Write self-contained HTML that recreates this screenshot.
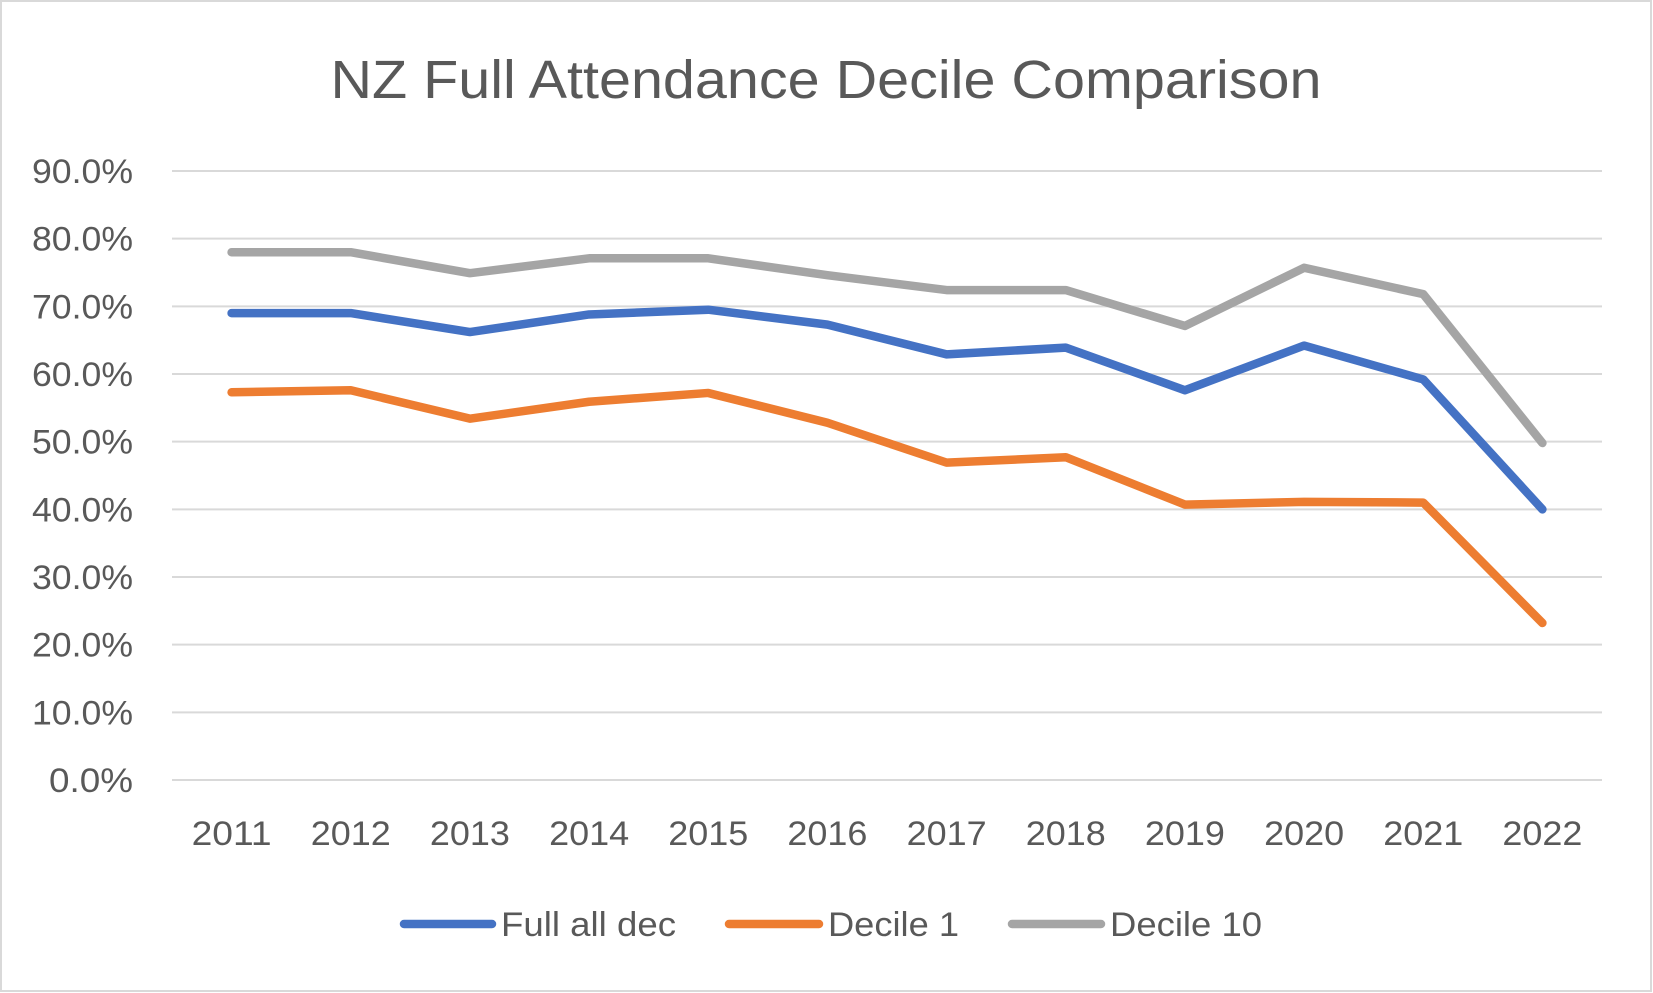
<!DOCTYPE html>
<html><head><meta charset="utf-8"><style>
html,body{margin:0;padding:0;background:#fff;}
svg{display:block;font-family:"Liberation Sans",sans-serif;}
</style></head><body>
<svg id="chart" width="1653" height="993">
<rect x="1" y="1" width="1650" height="990" fill="#fff" stroke="#d9d9d9" stroke-width="2"/>
<text x="826" y="98" text-anchor="middle" font-size="54" fill="#595959" textLength="991" lengthAdjust="spacingAndGlyphs">NZ Full Attendance Decile Comparison</text>
<g id="grid"></g><g id="ylabels"></g><g id="xlabels"></g><g id="series"></g>
<g id="legend"></g>
</svg>
<script>
const categories=["2011","2012","2013","2014","2015","2016","2017","2018","2019","2020","2021","2022"];
const yTicks=[0,10,20,30,40,50,60,70,80,90];
const seriesNames=["Full all dec","Decile 1","Decile 10"];
const fullAllDec=[69.0,69.0,66.2,68.8,69.5,67.3,62.9,63.9,57.6,64.2,59.2,40.0];
const decile1=[57.3,57.6,53.4,55.9,57.2,52.8,46.9,47.7,40.7,41.1,41.0,23.2];
const decile10=[78.0,78.0,74.9,77.1,77.1,74.6,72.4,72.4,67.1,75.7,71.8,49.8];
const colors=["#4472c4","#ed7d31","#a5a5a5"];
const NS="http://www.w3.org/2000/svg";
const L=172,R=1602,T=171,B=780;
const y=v=>B-(v/90)*(B-T);
const bw=(R-L)/categories.length;
const x=i=>L+bw*(i+0.5);
function mk(tag,attrs,parent){const e=document.createElementNS(NS,tag);for(const k in attrs)e.setAttribute(k,attrs[k]);parent.appendChild(e);return e;}
const grid=document.getElementById('grid'),yl=document.getElementById('ylabels'),xl=document.getElementById('xlabels'),sg=document.getElementById('series'),lg=document.getElementById('legend');
yTicks.forEach(t=>{
 const g=mk('line',{x1:L,x2:R,y1:y(t),y2:y(t),stroke:'#d9d9d9','stroke-width':2},grid);
 
 
 const lab=t.toFixed(1)+'%';
 const tx=mk('text',{x:133,y:y(t)+12,'text-anchor':'end','font-size':34,fill:'#595959',textLength:(lab.length===5?101:84),lengthAdjust:'spacingAndGlyphs'},yl);
 tx.textContent=lab;
 
 
});
categories.forEach((c,i)=>{
 const tx=mk('text',{x:x(i),y:845,'text-anchor':'middle','font-size':34,fill:'#595959',textLength:80,lengthAdjust:'spacingAndGlyphs'},xl);
 tx.textContent=c;
 
 
});
[fullAllDec,decile1,decile10].forEach((d,s)=>{
 const p=mk('polyline',{points:d.map((v,i)=>x(i)+','+y(v)).join(' '),fill:'none',stroke:colors[s],'stroke-width':8.5,'stroke-linecap':'round','stroke-linejoin':'round'},sg);
 
 
});
const lx=[404,729,1012],tw=[88,90,89],txw=[175,131,152];
seriesNames.forEach((n,s)=>{
 const l=mk('line',{x1:lx[s],x2:lx[s]+tw[s],y1:924,y2:924,stroke:colors[s],'stroke-width':8.5,'stroke-linecap':'round'},lg);
 
 
 const tx=mk('text',{x:lx[s]+tw[s]+9,y:936,'font-size':34,fill:'#595959',textLength:txw[s],lengthAdjust:'spacingAndGlyphs'},lg);
 tx.textContent=n;
 
 
});
</script>
</body></html>
